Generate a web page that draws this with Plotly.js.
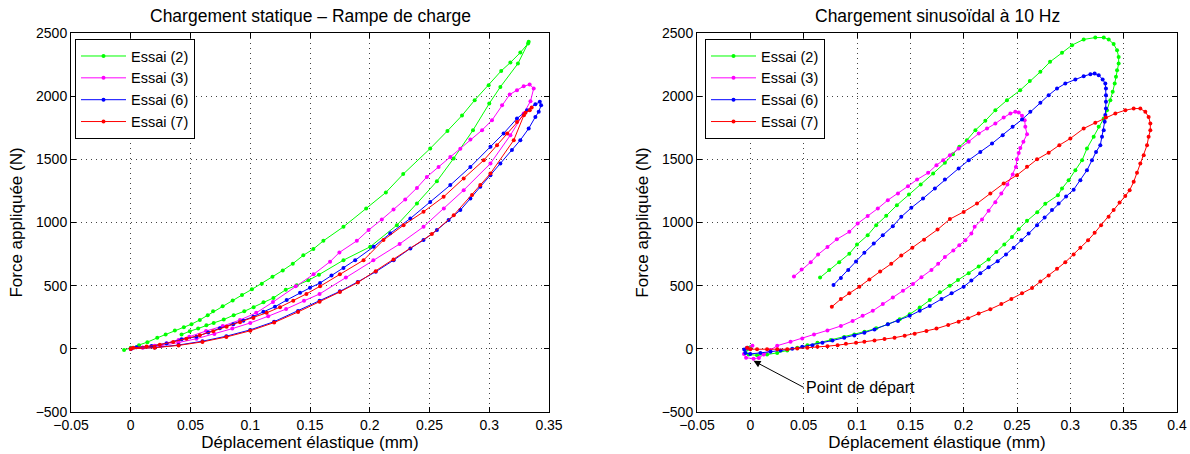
<!DOCTYPE html>
<html>
<head>
<meta charset="utf-8">
<script src="https://cdn.plot.ly/plotly-3.0.1.min.js"></script>
<style>html,body{margin:0;padding:0;background:#fff;}#chart{width:1190px;height:454px;}</style>
</head>
<body>
<div id="chart"></div>
<script>
// ---------- Data: static ramp loading ----------
const seriesNames = ['Essai (2)', 'Essai (3)', 'Essai (6)', 'Essai (7)'];

const statE2x = [-0.0056,0,0.0069,0.0139,0.0222,0.0292,0.0369,0.0444,0.0508,0.0578,0.0644,0.0689,0.0769,0.0853,0.0931,0.1014,0.1097,0.1186,0.1272,0.1356,0.1444,0.1528,0.1612,0.178,0.197,0.2135,0.228,0.2506,0.265,0.2772,0.2878,0.2995,0.31,0.3177,0.326,0.3325,0.333,0.324,0.3093,0.3,0.2864,0.2702,0.2562,0.2395,0.2227,0.2004,0.178,0.1575,0.1486,0.1389,0.1297,0.1194,0.1111,0.1028,0.095,0.0861,0.0778,0.0694,0.0633,0.0564,0.0494,0.0425];
const statE2y = [-10,8,29,53,87,113,145,171,195,229,266,297,337,382,426,471,516,571,621,674,740,790,855,966,1111,1238,1383,1586,1725,1847,1968,2087,2200,2266,2345,2417,2430,2258,2073,1942,1731,1507,1327,1151,979,808,702,587,542,503,468,403,368,329,297,266,232,205,187,161,139,113];

const statE3x = [0,0.01,0.02,0.03,0.04,0.049,0.063,0.077,0.0914,0.105,0.119,0.138,0.153,0.1668,0.1746,0.1892,0.199,0.2101,0.2199,0.2297,0.2395,0.2478,0.2576,0.2674,0.2758,0.2842,0.294,0.3023,0.3107,0.3171,0.3232,0.3288,0.3338,0.3372,0.3345,0.3288,0.3177,0.301,0.2786,0.262,0.245,0.225,0.203,0.18,0.158,0.145,0.13,0.115,0.1,0.085,0.07,0.055,0.04,0.025,0.01,0];
const statE3y = [0,10,25,45,70,96,141,180,228,285,370,495,590,690,763,855,940,1024,1103,1183,1274,1361,1440,1519,1583,1657,1731,1810,1929,2013,2047,2079,2092,2061,1960,1863,1691,1467,1256,1110,966,830,702,565,434,380,315,258,205,160,118,80,50,25,8,0];

const statE6x = [0,0.0048,0.0174,0.0299,0.0425,0.055,0.0648,0.0746,0.0858,0.0942,0.1026,0.111,0.1207,0.1305,0.1417,0.15,0.1584,0.168,0.178,0.1878,0.2033,0.2172,0.234,0.2506,0.2674,0.2842,0.301,0.312,0.3232,0.3316,0.3386,0.3423,0.3434,0.3414,0.3386,0.333,0.326,0.319,0.3093,0.301,0.2925,0.2842,0.2758,0.266,0.2562,0.245,0.234,0.22,0.205,0.19,0.175,0.158,0.14,0.12,0.1,0.08,0.06,0.04,0.02,0];
const statE6y = [0,12,22,43,75,96,130,162,194,222,254,293,333,386,444,483,521,580,640,702,808,914,1032,1163,1296,1440,1599,1705,1823,1889,1936,1955,1928,1876,1836,1744,1652,1573,1467,1375,1282,1190,1098,1019,940,861,795,702,610,530,455,381,300,215,150,100,60,30,10,0];

const statE7x = [0,0.002,0.0132,0.0243,0.0355,0.0466,0.0578,0.069,0.0802,0.0914,0.1026,0.1137,0.1249,0.136,0.147,0.1584,0.175,0.1948,0.2115,0.2283,0.245,0.2618,0.2786,0.2954,0.3065,0.315,0.3232,0.3303,0.3339,0.3355,0.329,0.3205,0.301,0.2925,0.2856,0.2703,0.252,0.2199,0.205,0.19,0.175,0.158,0.14,0.12,0.1,0.08,0.06,0.04,0.02,0];
const statE7y = [0,8,18,33,55,80,108,140,175,210,245,285,330,380,435,495,590,702,861,979,1085,1203,1349,1493,1612,1705,1796,1868,1889,1910,1849,1652,1388,1296,1217,1058,908,708,615,525,450,372,292,208,143,94,55,27,9,0];

// ---------- Data: sinusoidal loading at 10 Hz ----------
const sinE2x = [0,-0.003,-0.0047,-0.0016,0.0063,0.0157,0.0252,0.0346,0.044,0.0535,0.0629,0.0755,0.088,0.0975,0.107,0.118,0.129,0.14,0.1494,0.1588,0.1682,0.1777,0.187,0.1947,0.2047,0.2141,0.2234,0.2306,0.2381,0.2453,0.2516,0.2594,0.269,0.2765,0.2884,0.2922,0.2984,0.3047,0.311,0.3156,0.3219,0.3266,0.3313,0.3344,0.3375,0.3397,0.3416,0.3428,0.3438,0.3453,0.3453,0.3438,0.3406,0.336,0.3313,0.3234,0.3125,0.3016,0.2922,0.281,0.2719,0.262,0.253,0.2406,0.2297,0.2203,0.211,0.203,0.196,0.19,0.1824,0.1714,0.1597,0.1487,0.1374,0.1274,0.118,0.11,0.1,0.0928,0.0833,0.0739,0.0654];
const sinE2y = [13,-5,-32,-45,-51,-45,-32,-13,8,29,48,69,93,114,136,162,194,234,274,327,386,447,500,545,599,652,708,766,825,886,947,1013,1082,1148,1216,1269,1335,1414,1493,1586,1678,1757,1823,1889,1968,2034,2100,2153,2206,2259,2311,2364,2412,2449,2464,2464,2449,2404,2343,2272,2193,2120,2047,1968,1889,1805,1731,1652,1599,1541,1472,1388,1301,1221,1137,1053,979,899,825,753,686,625,564];

const sinE3x = [0.002,-0.003,-0.006,-0.004,0.003,0.008,0.0126,0.0189,0.0252,0.0377,0.0487,0.0597,0.0723,0.0849,0.0959,0.1053,0.1148,0.1242,0.1336,0.1431,0.1525,0.1604,0.1698,0.1761,0.1824,0.1903,0.1959,0.2016,0.2072,0.2103,0.2172,0.2234,0.2297,0.2353,0.241,0.246,0.249,0.25,0.2516,0.2531,0.256,0.2594,0.2578,0.2572,0.2547,0.2516,0.2484,0.2438,0.2375,0.2297,0.2219,0.2141,0.2047,0.1953,0.1871,0.1808,0.1745,0.1667,0.1563,0.1478,0.1384,0.1289,0.1195,0.11,0.1006,0.0928,0.0811,0.0723,0.0635,0.0566,0.0481,0.0409];
const sinE3y = [25,5,-40,-70,-78,-72,-45,-10,25,56,82,114,146,181,221,261,301,354,407,460,513,567,625,673,726,779,820,860,912,966,1024,1093,1160,1229,1300,1380,1440,1500,1550,1590,1640,1699,1757,1810,1844,1871,1876,1863,1831,1783,1744,1704,1640,1586,1533,1493,1454,1393,1340,1287,1229,1177,1111,1052,992,926,867,806,747,686,628,572];

const sinE6x = [-0.003,-0.0057,-0.0047,0,0.0094,0.0189,0.0283,0.0393,0.0487,0.0582,0.0676,0.077,0.088,0.0975,0.1069,0.1164,0.1289,0.1384,0.1494,0.1588,0.1682,0.1792,0.1887,0.2,0.2072,0.2156,0.2234,0.2319,0.2397,0.2469,0.2541,0.2609,0.2688,0.2759,0.2828,0.289,0.296,0.3031,0.3094,0.3156,0.3203,0.3241,0.3281,0.3297,0.3313,0.3322,0.3328,0.3334,0.3334,0.3334,0.3334,0.3328,0.3303,0.3266,0.3228,0.3188,0.3125,0.3047,0.2953,0.2875,0.2797,0.2719,0.2625,0.2547,0.2459,0.2366,0.2266,0.2156,0.2047,0.1953,0.1824,0.173,0.1619,0.1509,0.1415,0.1336,0.1242,0.1157,0.1069,0.0991,0.0918,0.0849,0.078];
const sinE6y = [8,-5,-32,-40,-32,-24,-13,0,16,29,48,66,88,106,128,154,194,221,261,301,340,394,439,492,540,599,646,694,747,801,859,912,979,1040,1099,1150,1205,1260,1335,1414,1493,1559,1612,1678,1731,1797,1850,1902,1955,2008,2061,2100,2132,2166,2179,2174,2158,2132,2100,2061,2008,1947,1876,1815,1757,1691,1625,1559,1493,1428,1340,1269,1190,1116,1045,971,899,833,761,692,625,561,505];

const sinE7x = [-0.003,0,0.0063,0.0157,0.0252,0.0346,0.044,0.0535,0.0629,0.0723,0.0818,0.0896,0.0991,0.1069,0.1164,0.1258,0.1352,0.1447,0.1541,0.1651,0.1745,0.1855,0.1953,0.2041,0.2141,0.225,0.2353,0.2447,0.2547,0.2641,0.2719,0.2797,0.2875,0.2953,0.3031,0.3094,0.3166,0.3228,0.3288,0.3359,0.3406,0.3462,0.3515,0.3556,0.3594,0.3625,0.3656,0.3688,0.3719,0.3734,0.375,0.375,0.3734,0.3703,0.3656,0.3594,0.3516,0.3422,0.3334,0.3234,0.3125,0.3,0.2897,0.2797,0.2688,0.2594,0.25,0.2375,0.225,0.2125,0.2,0.1871,0.1755,0.1629,0.1519,0.1415,0.1321,0.1217,0.1116,0.1022,0.0928,0.0849,0.0764];
const sinE7y = [8,-3,-3,-3,-3,-3,3,8,16,21,29,40,48,56,66,77,88,104,120,141,160,189,215,242,279,314,354,394,439,481,532,580,633,686,747,801,859,918,979,1045,1099,1158,1210,1256,1322,1394,1467,1533,1612,1678,1731,1784,1836,1876,1902,1902,1889,1863,1831,1789,1744,1665,1612,1553,1500,1441,1375,1309,1229,1150,1084,1027,944,864,801,739,673,612,548,492,439,394,333];

// ---------- Axis ticks ----------
const yTickVals = [-500,0,500,1000,1500,2000,2500];
const yTickText = ['\u2212500','0','500','1000','1500','2000','2500'];
const xTickValsLeft = [-0.05,0,0.05,0.1,0.15,0.2,0.25,0.3,0.35];
const xTickTextLeft = ['\u22120.05','0','0.05','0.1','0.15','0.2','0.25','0.3','0.35'];
const xTickValsRight = [-0.05,0,0.05,0.1,0.15,0.2,0.25,0.3,0.35,0.4];
const xTickTextRight = ['\u22120.05','0','0.05','0.1','0.15','0.2','0.25','0.3','0.35','0.4'];

const leftTitle = 'Chargement statique \u2013 Rampe de charge';
const rightTitle = 'Chargement sinuso\u00efdal \u00e0 10 Hz';
const xTitle = 'D\u00e9placement \u00e9lastique (mm)';
const yTitle = 'Force appliqu\u00e9e (N)';
const annotText = 'Point de d\u00e9part';
const annotTip = [0.003, -95];
const annotTail = [0.05, -305];

// ---------- Build ----------
const colors = ['#00ff00', '#ff00ff', '#0000ff', '#ff0000'];
const FONT = 'Liberation Sans, Arial, Helvetica, sans-serif';
const statData = [[statE2x,statE2y],[statE3x,statE3y],[statE6x,statE6y],[statE7x,statE7y]];
const sinData = [[sinE2x,sinE2y],[sinE3x,sinE3y],[sinE6x,sinE6y],[sinE7x,sinE7y]];

const traces = [];
statData.forEach((d,i)=>{
  traces.push({x:d[0], y:d[1], type:'scatter', mode:'lines+markers', name:seriesNames[i],
    line:{color:colors[i], width:1}, marker:{color:colors[i], size:4, symbol:'circle'},
    xaxis:'x', yaxis:'y', legend:'legend'});
});
sinData.forEach((d,i)=>{
  traces.push({x:d[0], y:d[1], type:'scatter', mode:'lines+markers', name:seriesNames[i],
    line:{color:colors[i], width:1}, marker:{color:colors[i], size:4, symbol:'circle'},
    xaxis:'x2', yaxis:'y2', legend:'legend2'});
});

function axisCommon(){
  return {showline:true, linecolor:'#000', linewidth:1, mirror:'ticks', ticks:'inside', ticklen:5,
    tickcolor:'#000', showgrid:true, gridcolor:'#444', griddash:'1px,4px', gridwidth:1, zeroline:false,
    tickfont:{family:FONT, size:14, color:'#000'}};
}
const xa = Object.assign(axisCommon(), {domain:[71/1190, 549/1190], range:[-0.05,0.35], tickmode:'array',
  tickvals:xTickValsLeft, ticktext:xTickTextLeft, anchor:'y',
  title:{text:xTitle, font:{family:FONT,size:17,color:'#000'}, standoff:2}});
const xa2 = Object.assign(axisCommon(), {domain:[697/1190, 1177/1190], range:[-0.05,0.4], tickmode:'array',
  tickvals:xTickValsRight, ticktext:xTickTextRight, anchor:'y2',
  title:{text:xTitle, font:{family:FONT,size:17,color:'#000'}, standoff:2}});
const ya = Object.assign(axisCommon(), {domain:[0,1], range:[-500,2500], tickmode:'array',
  tickvals:yTickVals, ticktext:yTickText, anchor:'x',
  title:{text:yTitle, font:{family:FONT,size:17,color:'#000'}, standoff:8}});
const ya2 = Object.assign(axisCommon(), {domain:[0,1], range:[-500,2500], tickmode:'array',
  tickvals:yTickVals, ticktext:yTickText, anchor:'x2',
  title:{text:yTitle, font:{family:FONT,size:17,color:'#000'}, standoff:8}});

const legendCommon = {bgcolor:'#fff', bordercolor:'#000', borderwidth:1, xanchor:'left', yanchor:'top',
  font:{family:FONT, size:14.5, color:'#000'}, tracegroupgap:0, itemwidth:45};

const layout = {
  width:1190, height:454, paper_bgcolor:'#fff', plot_bgcolor:'#fff',
  margin:{l:0, r:0, t:33, b:42},
  showlegend:true,
  xaxis:xa, yaxis:ya, xaxis2:xa2, yaxis2:ya2,
  legend:Object.assign({x:75/1190, y:0.984}, legendCommon),
  legend2:Object.assign({x:705/1190, y:0.984}, legendCommon),
  annotations:[
    {text:leftTitle, xref:'paper', yref:'paper', x:310/1190, y:1+(33-16)/379, showarrow:false,
     xanchor:'center', yanchor:'middle', font:{family:FONT,size:17.5,color:'#000'}},
    {text:rightTitle, xref:'paper', yref:'paper', x:937/1190, y:1+(33-16)/379, showarrow:false,
     xanchor:'center', yanchor:'middle', font:{family:FONT,size:17.5,color:'#000'}},
    {text:annotText, xref:'x2', yref:'y2', x:annotTip[0], y:annotTip[1], ax:annotTail[0], ay:annotTail[1],
     axref:'x2', ayref:'y2', showarrow:true, arrowhead:2, arrowsize:1.4, arrowwidth:1, arrowcolor:'#000',
     xanchor:'left', yanchor:'middle', font:{family:FONT,size:16,color:'#000'}}
  ]
};

Plotly.newPlot('chart', traces, layout, {staticPlot:true, displayModeBar:false});
</script>
</body>
</html>
